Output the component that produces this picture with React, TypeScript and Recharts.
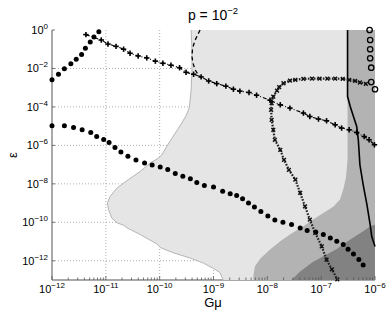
import React from 'react';
import { ComposedChart, Scatter, XAxis, YAxis, ReferenceLine } from 'recharts';

// every value is a log10: x = log10(Gμ), y = log10(ε)
const xMajor = [-12, -11, -10, -9, -8, -7, -6];
const yMajor = [-12, -10, -8, -6, -4, -2, 0];
const minorFactors = [2, 3, 4, 5, 6, 7, 8, 9];

const lightEdge = [
  [-9.415, 0], [-9.4, -1.04], [-9.4, -2.08], [-9.415, -3.11], [-9.45, -4.05], [-9.51, -4.46],
  [-9.6, -4.88], [-9.67, -5.19], [-9.77, -5.62], [-9.87, -6.06], [-9.96, -6.49], [-10.02, -6.66],
  [-10.18, -6.92], [-10.36, -7.35], [-10.58, -7.78], [-10.79, -8.21], [-10.92, -8.65], [-10.97, -8.99],
  [-10.95, -9.34], [-10.89, -9.77], [-10.79, -10.03], [-10.67, -10.15], [-10.6, -10.3], [-10.36, -10.64],
  [-10.05, -11.13], [-9.99, -11.31], [-9.74, -11.59], [-9.43, -11.86], [-9.19, -12.12], [-9.0, -12.4],
  [-8.88, -12.61], [-8.82, -13],
];
const lightCorners = [[-6, -13], [-6, 0]];

const mediumEdge = [
  [-6.51, 0], [-6.51, -6.75], [-6.54, -7.68], [-6.59, -8.3], [-6.65, -8.82], [-6.77, -9.18],
  [-6.96, -9.52], [-7.15, -9.86], [-7.33, -10.21], [-7.58, -10.64], [-7.76, -10.99], [-7.95, -11.42],
  [-8.13, -11.88], [-8.23, -12.28], [-8.26, -12.8], [-8.26, -13], [-6, -13], [-6, 0],
];

const darkEdge = [
  [-7.55, -13], [-7.39, -12.56], [-7.17, -12.09], [-6.96, -11.76], [-6.71, -11.39], [-6.46, -10.9],
  [-6.22, -10.46], [-6.09, -10.22], [-6, -10.12], [-6, -13],
];

const dotsUpper = [
  [-12, -2.59], [-11.88, -2.3], [-11.77, -2.01], [-11.65, -1.76], [-11.55, -1.52],
  [-11.45, -1.28], [-11.38, -0.95], [-11.29, -0.62], [-11.22, -0.36], [-11.13, -0.09],
];

const dotsLower = [
  [-12, -4.98], [-11.77, -4.98], [-11.6, -5.07], [-11.44, -5.19], [-11.28, -5.33], [-11.17, -5.54],
  [-11.04, -5.69], [-10.94, -5.85], [-10.83, -6.11], [-10.72, -6.35], [-10.59, -6.57], [-10.44, -6.76],
  [-10.28, -6.92], [-10.14, -7.02], [-9.99, -7.12], [-9.85, -7.26], [-9.71, -7.46], [-9.57, -7.61],
  [-9.43, -7.73], [-9.31, -7.93], [-9.17, -8.08], [-9.0, -8.17], [-8.83, -8.39], [-8.69, -8.51],
  [-8.57, -8.61], [-8.46, -8.77], [-8.35, -8.99], [-8.24, -9.2], [-8.12, -9.44], [-7.99, -9.67],
  [-7.86, -9.88], [-7.71, -10.0], [-7.55, -10.12], [-7.39, -10.3], [-7.26, -10.43], [-7.1, -10.51],
  [-6.96, -10.64], [-6.83, -10.82], [-6.71, -10.99], [-6.59, -11.16], [-6.5, -11.4], [-6.4, -11.65],
  [-6.3, -11.94], [-6.22, -12.22],
];

const plusCurve = [
  [-11.37, -0.24], [-11.085, -0.52], [-10.96, -0.73], [-10.81, -0.85], [-10.67, -1.0], [-10.55, -1.21],
  [-10.4, -1.35], [-10.24, -1.45], [-10.08, -1.62], [-9.94, -1.73], [-9.79, -1.83], [-9.63, -1.96],
  [-9.51, -2.2], [-9.37, -2.3], [-9.23, -2.44], [-9.09, -2.65], [-8.94, -2.79], [-8.77, -2.92],
  [-8.63, -3.08], [-8.51, -3.18], [-8.34, -3.25], [-8.2, -3.39], [-7.95, -3.65], [-7.76, -3.89],
  [-7.58, -4.06], [-7.33, -4.32], [-7.21, -4.5], [-7.05, -4.63], [-6.9, -4.72], [-6.74, -4.93],
  [-6.62, -5.1], [-6.48, -5.19], [-6.34, -5.33], [-6.2, -5.54], [-6.11, -5.71], [-6.01, -5.97],
];

const crossCurve = [
  [-6.17, -2.8], [-6.28, -2.73], [-6.37, -2.65], [-6.48, -2.59], [-6.6, -2.54], [-6.74, -2.53],
  [-6.885, -2.53], [-7.03, -2.53], [-7.17, -2.53], [-7.33, -2.54], [-7.48, -2.59], [-7.58, -2.63],
  [-7.7, -2.77], [-7.78, -2.97], [-7.82, -3.15], [-7.89, -3.46], [-7.92, -3.8], [-7.93, -4.15],
  [-7.92, -4.67], [-7.89, -5.19], [-7.86, -5.71], [-7.76, -6.23], [-7.69, -6.75], [-7.6, -7.27],
  [-7.48, -7.78], [-7.39, -8.47], [-7.3, -9.17], [-7.21, -9.86], [-7.11, -10.55], [-6.99, -11.25],
  [-6.9, -11.94], [-6.8, -12.45], [-6.7, -12.97],
];

const dashTop = [
  [-9.25, 0], [-9.34, -0.52], [-9.39, -0.95], [-9.4, -1.39], [-9.38, -1.73], [-9.34, -2.08],
  [-9.28, -2.34], [-9.22, -2.5],
];

const solidCurve = [
  [-6.51, 0], [-6.51, -3.46], [-6.46, -3.98], [-6.4, -4.5], [-6.34, -5.02], [-6.31, -5.71],
  [-6.28, -7.01], [-6.22, -8.04], [-6.15, -9.08], [-6.09, -10.12], [-6.06, -10.74], [-6.0, -11.26],
];

const rings = [
  [-6.1, 0], [-6.09, -0.52], [-6.09, -1.0], [-6.09, -1.47], [-6.07, -1.96], [-6.07, -2.71], [-6.0, -3.08],
];

const pts = (a: number[][]) => a.map(([x, y]) => ({ x, y }));

const xTicks: number[] = [];
xMajor.forEach((m, i) => {
  xTicks.push(m);
  if (i < xMajor.length - 1) minorFactors.forEach((f) => xTicks.push(m + Math.log10(f)));
});

const FONT = '"Liberation Sans", Arial, sans-serif';
const AXIS = '#8c8c8c';
const isMajor = (v: number) => Math.abs(v - Math.round(v)) < 1e-6;
const expLabel = (v: number) => (v === 0 ? '0' : '\u2212' + Math.abs(v));

const BottomTick = ({ x, y, payload }: any) => {
  const v = payload.value;
  const major = isMajor(v);
  return (
    <g>
      <line x1={x} x2={x} y1={y} y2={y - (major ? 4 : 2.5)} stroke="#555" strokeWidth={0.8} />
      {major && (
        <text x={x} y={y + 13} textAnchor="middle" fontSize={11} fontFamily={FONT} fill="#000">
          <tspan>10</tspan>
          <tspan dy={-5} fontSize={8}>{expLabel(Math.round(v))}</tspan>
        </text>
      )}
    </g>
  );
};

const TopTick = ({ x, y, payload }: any) => {
  const major = isMajor(payload.value);
  return <line x1={x} x2={x} y1={y} y2={y + (major ? 4 : 2.5)} stroke="#555" strokeWidth={0.8} />;
};

const LeftTick = ({ x, y, payload }: any) => (
  <g>
    <line x1={x} x2={x + 3} y1={y} y2={y} stroke="#555" strokeWidth={0.8} />
    <text x={x - 4} y={y + 4} textAnchor="end" fontSize={11} fontFamily={FONT} fill="#000">
      <tspan>10</tspan>
      <tspan dy={-5} fontSize={8}>{expLabel(payload.value)}</tspan>
    </text>
  </g>
);

const noShape = () => <g />;

const region = (fill: string) => (props: any) => {
  const d = props.points.map((p: any, i: number) => `${i ? 'L' : 'M'}${p.x},${p.y}`).join('') + 'Z';
  return <path d={d} fill={fill} stroke="none" />;
};

const Dot = (p: any) => <circle cx={p.cx} cy={p.cy} r={2.5} fill="#000" />;
const Plus = (p: any) => (
  <g stroke="#000" strokeWidth={1.6}>
    <line x1={p.cx - 2.7} x2={p.cx + 2.7} y1={p.cy} y2={p.cy} />
    <line x1={p.cx} x2={p.cx} y1={p.cy - 2.7} y2={p.cy + 2.7} />
  </g>
);
const Cross = (p: any) => (
  <g stroke="#111" strokeWidth={1.4}>
    <line x1={p.cx - 1.9} x2={p.cx + 1.9} y1={p.cy - 1.9} y2={p.cy + 1.9} />
    <line x1={p.cx - 1.9} x2={p.cx + 1.9} y1={p.cy + 1.9} y2={p.cy - 1.9} />
  </g>
);
const Ring = (p: any) => <circle cx={p.cx} cy={p.cy} r={2.7} fill="none" stroke="#000" strokeWidth={1.3} />;

export default function App() {
  return (
    <div style={{ position: 'absolute', left: 0, top: 0, width: 388, height: 316, background: '#fff' }}>
      <ComposedChart width={388} height={316} margin={{ top: 30, right: 13, bottom: 0, left: 0 }}>
        <Scatter data={pts([...lightEdge, ...lightCorners])} shape={noShape} line={region('#e5e5e5')} isAnimationActive={false} />
        <Scatter data={pts(lightEdge)} shape={noShape} line={{ stroke: '#b5b5b5', strokeWidth: 1 }} isAnimationActive={false} />
        <Scatter data={pts(mediumEdge)} shape={noShape} line={region('#b3b3b3')} isAnimationActive={false} />
        <Scatter data={pts(darkEdge)} shape={noShape} line={region('#828282')} isAnimationActive={false} />

        {xMajor.slice(1, -1).map((v) => (
          <ReferenceLine key={'gx' + v} x={v} stroke="#9a9a9a" strokeWidth={0.8} strokeDasharray="1 2" />
        ))}
        {yMajor.slice(0, -1).map((v) => (
          <ReferenceLine key={'gy' + v} y={v} stroke="#9a9a9a" strokeWidth={0.8} strokeDasharray="1 2" />
        ))}

        <Scatter data={pts(solidCurve)} shape={noShape} line={{ stroke: '#000', strokeWidth: 1.6 }} isAnimationActive={false} />
        <Scatter data={pts(dashTop)} shape={noShape} line={{ stroke: '#000', strokeWidth: 1.3, strokeDasharray: '4 3' }} isAnimationActive={false} />
        <Scatter data={pts(crossCurve)} shape={Cross} line={{ stroke: '#222', strokeWidth: 2.2, strokeDasharray: '1.6 1.4' }} isAnimationActive={false} />
        <Scatter data={pts(plusCurve)} shape={Plus} line={{ stroke: '#000', strokeWidth: 1.1, strokeDasharray: '4 2 1 2' }} isAnimationActive={false} />
        <Scatter data={pts(dotsUpper)} shape={Dot} isAnimationActive={false} />
        <Scatter data={pts(dotsLower)} shape={Dot} isAnimationActive={false} />
        <Scatter data={pts(rings)} shape={Ring} isAnimationActive={false} />

        <XAxis type="number" dataKey="x" domain={[-12, -6]} ticks={xTicks} interval={0} height={36}
          tickSize={0} tickMargin={0} tickLine={false} tick={<BottomTick />}
          axisLine={{ stroke: AXIS, strokeWidth: 1.5 }} />
        <XAxis xAxisId="top" orientation="top" type="number" dataKey="x" domain={[-12, -6]} ticks={xTicks}
          interval={0} height={0} tickSize={0} tickMargin={0} tickLine={false} tick={<TopTick />}
          axisLine={{ stroke: AXIS, strokeWidth: 1.5 }} />
        <YAxis type="number" dataKey="y" domain={[-13, 0]} ticks={yMajor} interval={0} width={52}
          tickSize={0} tickMargin={0} tickLine={false} tick={<LeftTick />}
          axisLine={{ stroke: AXIS, strokeWidth: 1.5 }} />
        <YAxis yAxisId="right" orientation="right" type="number" dataKey="y" domain={[-13, 0]} width={0}
          tick={false} tickLine={false} axisLine={{ stroke: '#a0a0a0', strokeWidth: 1 }} />
      </ComposedChart>
      <svg width={388} height={316} style={{ position: 'absolute', left: 0, top: 0, pointerEvents: 'none' }}>
        <text x={213} y={20} textAnchor="middle" fontSize={14} fontFamily={FONT} fill="#000">
          <tspan>p = 10</tspan>
          <tspan dy={-6} fontSize={9.5}>{'\u22122'}</tspan>
        </text>
        <text x={213} y={307} textAnchor="middle" fontSize={13} fontFamily={FONT} fill="#000">Gμ</text>
        <text transform="translate(17,155) rotate(-90)" textAnchor="middle" fontSize={13} fontFamily={FONT} fill="#000">ε</text>
      </svg>
    </div>
  );
}
